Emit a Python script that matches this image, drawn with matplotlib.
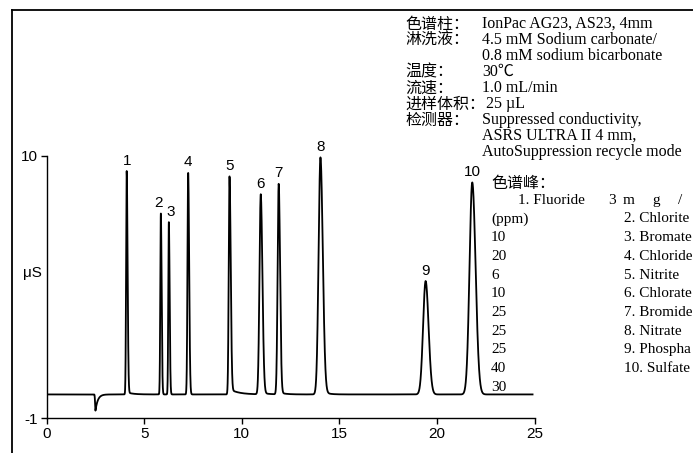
import numpy as np
import matplotlib.pyplot as plt
from matplotlib.lines import Line2D

plt.rcParams["axes.unicode_minus"] = False

# peaks (retention time in min, height in uS)
peak_labels = ["1", "2", "3", "4", "5", "6", "7", "8", "9", "10"]
peak_times = [4.10, 5.85, 6.26, 7.25, 9.37, 10.97, 11.89, 14.03, 19.42, 21.81]
peak_heights = [9.36, 7.59, 7.22, 9.28, 9.14, 8.38, 8.82, 9.93, 4.75, 8.88]
sigma_left = [0.030, 0.028, 0.028, 0.035, 0.040, 0.065, 0.055, 0.095, 0.130, 0.140]
sigma_right = [0.045, 0.040, 0.040, 0.050, 0.060, 0.085, 0.070, 0.120, 0.150, 0.170]
tail_frac = [0.01, 0.0, 0.0, 0.0, 0.025, 0.01, 0.01, 0.02, 0.0, 0.0]
tail_tau = [0.3, 0.3, 0.3, 0.3, 0.45, 0.3, 0.3, 0.25, 0.3, 0.3]

# system (water) dip near the void volume
dip_time = 2.50
dip_depth = -0.68
dip_tau = 0.12
run_end = 24.9

# method conditions block
cond_labels = ["色谱柱：", "淋洗液：", "", "温度：", "流速：", "进样体积：", "检测器：", "", ""]
cond_values = [
    "IonPac AG23, AS23, 4mm",
    "4.5 mM Sodium carbonate/",
    "0.8 mM sodium bicarbonate",
    "30℃",
    "1.0 mL/min",
    " 25 µL",
    "Suppressed conductivity,",
    "ASRS ULTRA II 4 mm,",
    "AutoSuppression recycle mode",
]

# peak list (the concentration column is shifted one row in the original,
# and the right column runs off the edge of the image)
analytes = ["2. Chlorite", "3. Bromate", "4. Chloride", "5. Nitrite", "6. Chlorate",
            "7. Bromide", "8. Nitrate", "9. Phospha", "10. Sulfate"]
conc_col = ["(ppm)", "10", "20", "6", "10", "25", "25", "25", "40", "30"]

W, H = 693, 453
fig = plt.figure(figsize=(W / 100, H / 100), dpi=100)
ax = fig.add_axes([46.7 / W, 1 - 418.3 / H, 487.8 / W, 262.6 / H])

t = np.linspace(0, run_end, 6000)
y = np.zeros_like(t)
for t0, h, sl, sr, a, tau in zip(peak_times, peak_heights, sigma_left, sigma_right,
                                 tail_frac, tail_tau):
    left = h * np.exp(-0.5 * ((t - t0) / sl) ** 2)
    right = h * ((1 - a) * np.exp(-0.5 * ((t - t0) / sr) ** 2)
                 + a * np.exp(-np.clip(t - t0, 0, None) / tau))
    y += np.where(t < t0, left, right)

dip_left = dip_depth * np.exp(-0.5 * ((t - dip_time) / 0.02) ** 2)
dip_right = dip_depth * np.exp(-np.clip(t - dip_time, 0, None) / dip_tau)
y += np.where(t < dip_time, dip_left, dip_right)

ax.plot(t, y, color="black", lw=1.3)

for lab, t0, h in zip(peak_labels, peak_times, peak_heights):
    dx = 0
    if lab == "2":
        dx = -1.5
    elif lab == "3":
        dx = 1.5
    ax.annotate(lab, (t0, h), xytext=(dx, 2.5), textcoords="offset points",
                ha="center", va="bottom", fontsize=11, family="Liberation Sans",
                annotation_clip=False)

ax.set_xlim(0, 25)
ax.set_ylim(-1, 10)
ax.set_xticks([0, 5, 10, 15, 20, 25])
ax.set_yticks([-1, 10])
ax.spines["top"].set_visible(False)
ax.spines["right"].set_visible(False)
for s in ("left", "bottom"):
    ax.spines[s].set_linewidth(1.0)
ax.tick_params(direction="out", length=4, width=1.0, labelsize=11, pad=2.5)
for lbl in ax.get_xticklabels() + ax.get_yticklabels():
    lbl.set_family("Liberation Sans")
ax.set_ylabel("μS", rotation=0, ha="right", va="center", fontsize=11,
              family="Liberation Sans")
ax.yaxis.set_label_coords(-0.010, 0.553)

# frame around the figure (cropped on right and bottom)
fig.add_artist(Line2D([12 / W, 12 / W], [0, 1 - 10 / H], transform=fig.transFigure,
                      color="black", lw=1.3))
fig.add_artist(Line2D([12 / W, 1], [1 - 10 / H, 1 - 10 / H], transform=fig.transFigure,
                      color="black", lw=1.3))

serif = ["Liberation Serif", "Noto Sans CJK SC"]
cjk = ["Noto Sans CJK SC", "DejaVu Sans"]


def put(x, ypix, s, family, size=11.5):
    fig.text(x / W, 1 - ypix / H, s, ha="left", va="center", fontsize=size, family=family)


row_y = 24
for lab, val in zip(cond_labels, cond_values):
    if lab:
        put(405, row_y, lab, cjk, 11.5)
    put(482, row_y, val, serif)
    row_y += 16.0

put(491, 183, "色谱峰：", cjk, 11.5)
put(518, 200.5, "1. Fluoride", serif, 11)
for x, ch in zip([608, 623, 652, 678], ["3", "m", "g", "/"]):
    put(x, 200.5, ch, serif, 11)

row_y = 219
for c in conc_col:
    put(491, row_y, c, serif, 11)
    row_y += 18.67

row_y = 219
for a in analytes:
    put(624, row_y, a, serif, 11)
    row_y += 18.67

fig.savefig("out.png", dpi=100)
